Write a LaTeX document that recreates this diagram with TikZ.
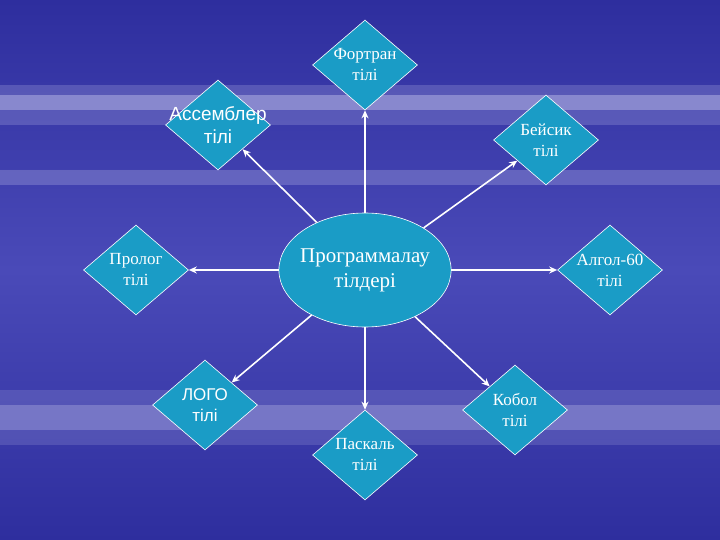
\documentclass[tikz,border=0pt]{standalone}
\usepackage{fontspec}
\setmainfont{Liberation Serif}
\newfontfamily\arialf{Liberation Sans}
\usetikzlibrary{shapes.geometric,arrows.meta}
\definecolor{dia}{HTML}{1A9CC6}
\definecolor{bgtop}{HTML}{2E2E9E}
\definecolor{bgmid}{HTML}{4A4AB8}
\definecolor{cloud}{HTML}{B8B8E6}
\tikzset{
 lang/.style={diamond,fill=dia,draw=white,line width=0.6pt,minimum width=105pt,minimum height=90pt,inner sep=-6pt,text=white,align=center,font=\fontsize{17}{21}\selectfont},
 conn/.style={draw=white,line width=1.6pt,-{Stealth[length=8pt,width=7pt]}}
}
\begin{document}
\begin{tikzpicture}[x=1pt,y=-1pt]
\useasboundingbox (0,0) rectangle (720,540);
\shade[top color=bgtop,bottom color=bgmid] (0,0) rectangle (720,270);
\shade[top color=bgmid,bottom color=bgtop] (0,270) rectangle (720,540);
\fill[cloud,opacity=0.5] (0,95) rectangle (720,110);
\fill[cloud,opacity=0.25] (0,85) rectangle (720,125);
\fill[cloud,opacity=0.3] (0,170) rectangle (720,185);
\fill[cloud,opacity=0.35] (0,405) rectangle (720,430);
\fill[cloud,opacity=0.2] (0,390) rectangle (720,445);
\node[ellipse,fill=dia,draw=white,line width=0.6pt,minimum width=146pt,minimum height=114pt,inner sep=-4pt,text=white,align=center,font=\fontsize{21}{25}\selectfont] (c) at (365,270) {Программалау\\тілдері};
\node[lang] (f) at (365,65) {Фортран\\тілі};
\node[lang,inner sep=-22pt,font=\arialf\fontsize{19}{23}\selectfont] (a) at (218,125) {Ассемблер\\тілі};
\node[lang] (b) at (546,140) {Бейсик\\тілі};
\node[lang] (p) at (136,270) {Пролог\\тілі};
\node[lang] (al) at (610,270) {Алгол-60\\тілі};
\node[lang,font=\arialf\fontsize{17}{21}\selectfont] (l) at (205,405) {ЛОГО\\тілі};
\node[lang] (pa) at (365,455) {Паскаль\\тілі};
\node[lang] (k) at (515,410) {Кобол\\тілі};
\foreach \t in {f,a,b,p,al,l,pa,k} \draw[conn] (c) -- (\t);
\end{tikzpicture}
\end{document}
